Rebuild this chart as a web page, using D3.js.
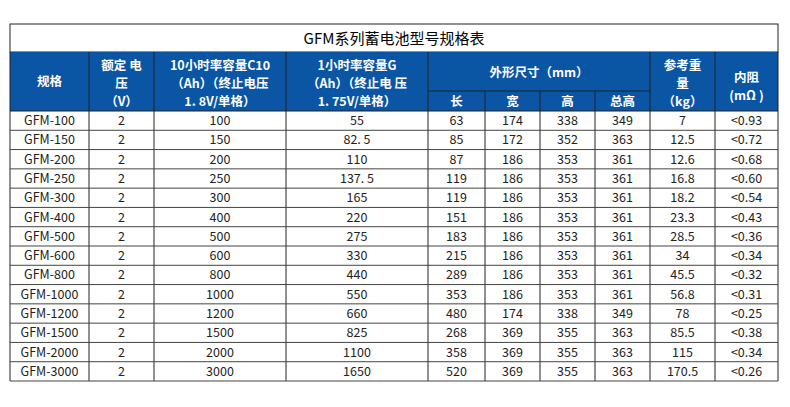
<!DOCTYPE html>
<html><head><meta charset="utf-8">
<script src="https://cdn.jsdelivr.net/npm/d3@7"></script>
<style>body{margin:0;background:#fff}</style>
</head><body>
<script>
var title = "GFM系列蓄电池型号规格表";
var models = ["GFM-100","GFM-150","GFM-200","GFM-250","GFM-300","GFM-400","GFM-500","GFM-600","GFM-800","GFM-1000","GFM-1200","GFM-1500","GFM-2000","GFM-3000"];
var voltage = ["2","2","2","2","2","2","2","2","2","2","2","2","2","2"];
var c10 = ["100","150","200","250","300","400","500","600","800","1000","1200","1500","2000","3000"];
var c1 = ["55","82. 5","110","137. 5","165","220","275","330","440","550","660","825","1100","1650"];
var lenMm = ["63","85","87","119","119","151","183","215","289","353","480","268","358","520"];
var widMm = ["174","172","186","186","186","186","186","186","186","186","174","369","369","369"];
var hgtMm = ["338","352","353","353","353","353","353","353","353","353","338","355","355","355"];
var totMm = ["349","363","361","361","361","361","361","361","361","361","349","363","363","363"];
var weight = ["7","12.5","12.6","16.8","18.2","23.3","28.5","34","45.5","56.8","78","85.5","115","170.5"];
var resist = ["<0.93","<0.72","<0.68","<0.60","<0.54","<0.43","<0.36","<0.34","<0.32","<0.31","<0.25","<0.38","<0.34","<0.26"];

var cols = [models, voltage, c10, c1, lenMm, widMm, hgtMm, totMm, weight, resist];
var edges = [10, 89, 154, 286, 428, 485, 540, 595, 650, 715, 778];
var blue = "#0b55a5";

var svg = d3.select("body").append("svg").attr("width", 790).attr("height", 407);

var y = d3.scaleBand().domain(d3.range(models.length)).range([111, 381]);

// title row
svg.append("rect").attr("x", 10).attr("y", 24).attr("width", 768).attr("height", 28)
  .attr("fill", "#fff").attr("stroke", "#222");
svg.append("text").attr("x", 394).attr("y", 44).attr("text-anchor", "middle")
  .attr("font-family", "'Noto Sans CJK SC'").attr("font-size", 15).text(title);

// header
svg.append("rect").attr("x", 10).attr("y", 52).attr("width", 768).attr("height", 59).attr("fill", blue);
var hdr = svg.append("g").attr("fill", "#fff").attr("font-family", "'Noto Sans CJK SC'")
  .attr("font-weight", "bold").attr("font-size", 12.5).attr("text-anchor", "middle");
function mtext(x, ys, lines) {
  lines.forEach(function(t, i) { hdr.append("text").attr("x", x).attr("y", ys[i]).text(t); });
}
function mid(i, j) { return (edges[i] + edges[j]) / 2; }
mtext(mid(0,1), [86], ["规格"]);
mtext(mid(1,2), [70, 88, 106], ["额定 电", "压", "（V）"]);
mtext(mid(2,3), [70, 88, 106], ["10小时率容量C10", "（Ah）（终止电压", "1. 8V/单格）"]);
mtext(mid(3,4), [70, 88, 106], ["1小时率容量G", "（Ah）（终止电 压", "1. 75V/单格）"]);
mtext(mid(4,8), [77], ["外形尺寸（mm）"]);
["长","宽","高","总高"].forEach(function(t, i) { mtext(mid(4+i,5+i), [106], [t]); });
mtext(mid(8,9), [70, 88, 106], ["参考重", "量", "（kg）"]);
mtext(mid(9,10), [82, 100], ["内阻", "(mΩ )"]);

var hl = svg.append("g").attr("stroke", "#222").attr("stroke-width", 1);
edges.forEach(function(x, i) {
  var top = (i > 4 && i < 8) ? 91 : 52;
  hl.append("line").attr("x1", x).attr("x2", x).attr("y1", top).attr("y2", 381);
});
hl.append("line").attr("x1", edges[4]).attr("x2", edges[8]).attr("y1", 91).attr("y2", 91);
hl.append("line").attr("x1", 10).attr("x2", 778).attr("y1", 111).attr("y2", 111);

// body
var rows = svg.append("g");
models.forEach(function(m, r) {
  rows.append("line").attr("x1", 10).attr("x2", 778)
    .attr("y1", y(r) + y.bandwidth()).attr("y2", y(r) + y.bandwidth()).attr("stroke", "#444");
  cols.forEach(function(c, k) {
    rows.append("text").attr("x", mid(k, k+1)).attr("y", y(r) + y.bandwidth()/2 + 4.5)
      .attr("text-anchor", "middle").attr("font-family", "'Noto Sans CJK SC'")
      .attr("font-size", 12.5).attr("fill", "#222").text(c[r]);
  });
});
</script>
</body></html>
